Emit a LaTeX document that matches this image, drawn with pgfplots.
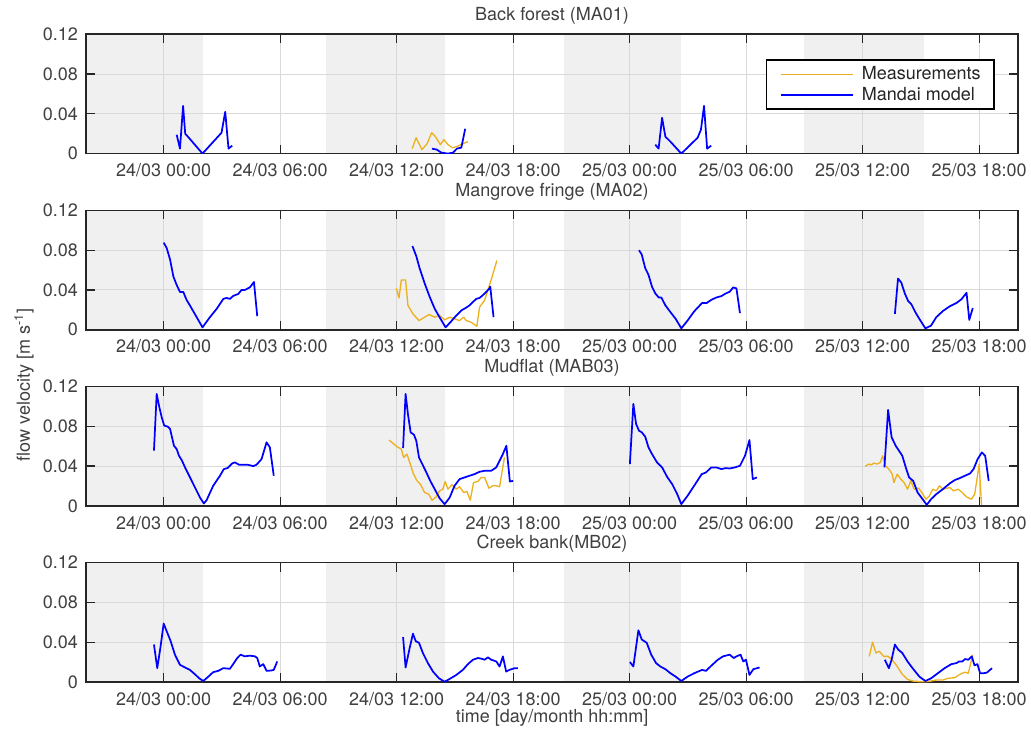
\documentclass[border=0pt]{standalone}
\usepackage{fontspec}
\setmainfont{TeX Gyre Heros}
\usepackage{pgfplots}
\pgfplotsset{compat=1.18}

\definecolor{modelblue}{RGB}{0,0,255}
\definecolor{measorange}{RGB}{237,177,32}
\definecolor{bandgray}{RGB}{240,240,240}
\definecolor{framegray}{RGB}{38,38,38}
\definecolor{textgray}{RGB}{64,64,64}

\newcommand{\figfont}{\fontsize{13.5}{16}\selectfont}

\pgfplotsset{
  model/.style={draw=modelblue, line width=1.3pt, line join=round, forget plot},
  meas/.style={draw=measorange, line width=1.0pt, line join=round, forget plot},
  band/.style={fill=bandgray, draw=none, forget plot, on layer=axis background},
  panel/.style={
    set layers, scale only axis, width=699pt, height=89.5pt,
    anchor=north west,
    xmin=-4, xmax=44, ymin=0, ymax=0.12,
    xtick={0,6,...,42},
    xticklabels={24/03 00:00, 24/03 06:00, 24/03 12:00, 24/03 18:00,
                 25/03 00:00, 25/03 06:00, 25/03 12:00, 25/03 18:00},
    ytick={0,0.04,0.08,0.12}, yticklabels={0,0.04,0.08,0.12},
    scaled y ticks=false,
    tick align=inside, major tick length=6.75pt,
    tick style={draw=framegray, line width=1pt},
    axis line style={draw=framegray, line width=1.2pt},
    grid=major, major grid style={draw=black!15, line width=0.8pt},
    tick label style={text=textgray, font=\figfont},
    xticklabel style={yshift=-4pt},
    yticklabel style={xshift=-2.5pt},
    title style={text=textgray, font=\figfont, at={(0.5,1)}, anchor=south,
                 inner sep=0pt, yshift=1.5pt},
    no markers,
  },
}

% tidal inundation periods shaded in every panel
\newcommand{\tidebands}{%
  \addplot[band] coordinates {(-4,0.12) (2.0,0.12)} \closedcycle;
  \addplot[band] coordinates {(8.35,0.12) (14.47,0.12)} \closedcycle;
  \addplot[band] coordinates {(20.64,0.12) (26.62,0.12)} \closedcycle;
  \addplot[band] coordinates {(33.0,0.12) (39.18,0.12)} \closedcycle;
}

\begin{document}
\begin{tikzpicture}

% ---------------- Back forest ----------------
\begin{axis}[panel, at={(0pt,0pt)}, title={Back forest (MA01)},
  legend style={at={(0.975,0.79)}, anchor=north east, draw=black,
    line width=1pt, fill=white, font=\figfont, text=framegray,
    inner xsep=10pt, inner ysep=5pt, column sep=6pt, row sep=4pt,
    nodes={inner sep=0pt}, cells={anchor=west}},
  legend image code/.code={\draw[#1] (0pt,0pt) -- (54pt,0pt);}]
\tidebands
\addplot[meas] coordinates {(12.8,0.005) (13.0,0.016) (13.3,0.004) (13.57,0.010)
  (13.8,0.021) (14.0,0.017) (14.25,0.009) (14.43,0.014) (14.64,0.009) (14.86,0.006)
  (15.1,0.007) (15.4,0.010) (15.67,0.012)};
\addplot[model] coordinates {(0.67,0.019) (0.84,0.005) (1.0,0.048) (1.11,0.020)
  (1.25,0.017) (2.0,0.0) (2.98,0.021) (3.17,0.042) (3.34,0.005) (3.53,0.008)};
\addplot[model] coordinates {(13.82,0.005) (14.07,0.004) (14.3,0.001) (14.64,0.0)
  (14.9,0.001) (15.1,0.005) (15.33,0.006) (15.53,0.025)};
\addplot[model] coordinates {(25.32,0.009) (25.49,0.005) (25.67,0.036) (25.84,0.017)
  (26.1,0.012) (26.66,0) (27.5,0.016) (27.67,0.024) (27.83,0.048) (27.99,0.005)
  (28.2,0.008)};
\addlegendimage{draw=measorange, line width=1.0pt}
\addlegendentry{Measurements}
\addlegendimage{draw=modelblue, line width=1.3pt}
\addlegendentry{Mandai model}
\end{axis}

% ---------------- Mangrove fringe ----------------
\begin{axis}[panel, at={(0pt,-132.1pt)}, title={Mangrove fringe (MA02)}]
\tidebands
\addplot[meas] coordinates {(11.98,0.0416) (12.12,0.032) (12.24,0.050) (12.46,0.050)
  (12.58,0.0245) (12.84,0.016) (13.15,0.0092) (13.44,0.0126) (13.67,0.0153)
  (13.96,0.0126) (14.21,0.0143) (14.47,0.0099) (14.73,0.0126) (14.98,0.011)
  (15.24,0.0092) (15.45,0.0126) (15.58,0.0092) (15.84,0.0075) (16.13,0.0034)
  (16.27,0.0228) (16.53,0.0297) (16.7,0.040) (16.92,0.0535) (17.16,0.0696)};
\addplot[model] coordinates {(0,0.0876) (0.15,0.0825) (0.33,0.0706) (0.5,0.0535)
  (0.67,0.045) (0.84,0.038) (1.01,0.038) (1.18,0.030) (1.35,0.0245) (1.7,0.0126)
  (2.0,0.0024) (2.38,0.0126) (2.73,0.021) (3.07,0.031) (3.24,0.032) (3.41,0.031)
  (3.58,0.034) (3.84,0.036) (4.01,0.040) (4.18,0.040) (4.44,0.0426) (4.65,0.048)
  (4.82,0.0136)};
\addplot[model] coordinates {(12.81,0.0842) (13.01,0.074) (13.18,0.062) (13.44,0.0467)
  (13.7,0.0331) (13.96,0.0211) (14.21,0.0126) (14.52,0.0024) (14.81,0.0085)
  (15.07,0.0143) (15.33,0.0194) (15.58,0.0222) (15.75,0.0245) (15.93,0.028)
  (16.1,0.031) (16.27,0.032) (16.44,0.0348) (16.61,0.038) (16.78,0.0416)
  (16.82,0.0433) (16.99,0.0126)};
\addplot[model] coordinates {(24.48,0.080) (24.62,0.0757) (24.8,0.062) (24.97,0.0552)
  (25.15,0.0433) (25.32,0.0365) (25.5,0.0324) (25.63,0.0324) (25.84,0.0245)
  (26.1,0.0177) (26.37,0.0109) (26.66,0.0014) (26.98,0.0092) (27.32,0.0184)
  (27.73,0.0269) (27.97,0.0269) (28.2,0.030) (28.46,0.0324) (28.72,0.0338)
  (28.95,0.0365) (29.15,0.0382) (29.33,0.0426) (29.5,0.0416) (29.68,0.0167)};
\addplot[model] coordinates {(37.66,0.016) (37.82,0.0515) (37.99,0.0474) (38.17,0.0365)
  (38.34,0.029) (38.51,0.0256) (38.71,0.0177) (38.92,0.0109) (39.23,0.0014)
  (39.52,0.0041) (39.79,0.0126) (40.13,0.0188) (40.48,0.0235) (40.83,0.0269)
  (41.09,0.0307) (41.35,0.0372) (41.49,0.0099) (41.67,0.0218)};
\end{axis}

% ---------------- Mudflat ----------------
\begin{axis}[panel, at={(0pt,-264.2pt)}, title={Mudflat (MAB03)}]
\tidebands
\addplot[meas] coordinates {(11.61,0.0662) (11.81,0.0629) (12.02,0.0595) (12.24,0.0571)
  (12.36,0.0487) (12.53,0.0521) (12.7,0.042) (12.87,0.0319) (13.05,0.0252)
  (13.22,0.0218) (13.44,0.0134) (13.65,0.0118) (13.82,0.0057) (14.04,0.0091)
  (14.21,0.0151) (14.38,0.0168) (14.5,0.0245) (14.64,0.0168) (14.85,0.0212)
  (15.07,0.0168) (15.24,0.0192) (15.45,0.0134) (15.62,0.0145) (15.79,0.0057)
  (15.96,0.0235) (16.18,0.0245) (16.36,0.0286) (16.53,0.0286) (16.75,0.0178)
  (16.95,0.0202) (17.13,0.0202) (17.3,0.0192) (17.55,0.0487)};
\addplot[meas] coordinates {(36.13,0.0397) (36.3,0.042) (36.44,0.0413) (36.58,0.043)
  (36.74,0.042) (36.91,0.0437) (37.03,0.0504) (37.17,0.0403) (37.35,0.037)
  (37.52,0.0319) (37.61,0.0235) (37.78,0.0319) (37.96,0.0269) (38.13,0.0235)
  (38.31,0.0168) (38.48,0.0252) (38.65,0.0168) (38.88,0.0178) (39.05,0.0134)
  (39.26,0.0067) (39.44,0.0101) (39.61,0.0168) (39.79,0.0151) (39.96,0.0202)
  (40.13,0.0168) (40.31,0.0175) (40.48,0.0185) (40.68,0.0151) (40.91,0.0168)
  (41.13,0.0134) (41.34,0.0091) (41.6,0.0067) (41.77,0.0118) (41.9,0.0286)
  (42.0,0.042) (42.07,0.0185) (42.12,0.001)};
\addplot[model] coordinates {(-0.5,0.0555) (-0.36,0.1126) (-0.22,0.099) (-0.10,0.089)
  (0.03,0.0807) (0.21,0.0797) (0.33,0.0773) (0.41,0.0706) (0.53,0.0605) (0.67,0.0571)
  (0.79,0.0504) (0.93,0.046) (1.1,0.0387) (1.53,0.0218) (1.87,0.0084) (2.07,0.0024)
  (2.21,0.0057) (2.55,0.0202) (2.9,0.0303) (3.1,0.037) (3.29,0.038) (3.53,0.0427)
  (3.67,0.0437) (3.89,0.0413) (4.1,0.0413) (4.35,0.0413) (4.61,0.040) (4.78,0.0413)
  (5.04,0.047) (5.3,0.0639) (5.47,0.0588) (5.67,0.0303)};
\addplot[model] coordinates {(12.33,0.0582) (12.46,0.1126) (12.58,0.0924) (12.72,0.0739)
  (12.89,0.0716) (13.01,0.0655) (13.15,0.0487) (13.32,0.042) (13.53,0.0336)
  (13.73,0.0252) (13.96,0.0168) (14.21,0.0077) (14.47,0.0017) (14.73,0.0084)
  (14.98,0.0202) (15.24,0.0269) (15.5,0.0286) (15.75,0.0303) (16.01,0.0319)
  (16.27,0.0343) (16.53,0.0353) (16.87,0.0353) (17.13,0.0387) (17.3,0.0454)
  (17.47,0.0521) (17.65,0.0605) (17.83,0.0245) (18.0,0.0252)};
\addplot[model] coordinates {(24.01,0.042) (24.19,0.1025) (24.33,0.0824) (24.48,0.0756)
  (24.62,0.074) (24.8,0.0696) (24.97,0.0588) (25.15,0.0521) (25.41,0.0437)
  (25.67,0.0387) (25.93,0.0292) (26.19,0.0218) (26.45,0.0118) (26.66,0.0017)
  (26.98,0.0101) (27.32,0.0202) (27.71,0.0319) (27.93,0.0336) (28.2,0.0387)
  (28.46,0.0387) (28.72,0.037) (28.95,0.038) (29.15,0.0376) (29.42,0.0387)
  (29.68,0.0403) (29.94,0.0504) (30.17,0.0662) (30.34,0.0269) (30.55,0.0286)};
\addplot[model] coordinates {(37.12,0.0387) (37.31,0.0965) (37.49,0.069) (37.7,0.0605)
  (37.87,0.0555) (38.04,0.0504) (38.22,0.0387) (38.39,0.0286) (38.6,0.0252)
  (38.83,0.0134) (39.09,0.0067) (39.3,0.001) (39.52,0.0067) (39.79,0.0118)
  (40.13,0.0168) (40.48,0.0225) (40.74,0.0259) (41.0,0.0279) (41.27,0.0303)
  (41.53,0.0326) (41.71,0.037) (41.92,0.047) (42.14,0.0538) (42.31,0.0504)
  (42.49,0.0252)};
\end{axis}

% ---------------- Creek bank ----------------
\begin{axis}[panel, at={(0pt,-396.3pt)}, title={Creek bank(MB02)}]
\tidebands
\addplot[meas] coordinates {(36.34,0.0258) (36.51,0.0401) (36.68,0.0292) (36.86,0.0309)
  (37.08,0.0258) (37.31,0.0258) (37.52,0.0224) (37.78,0.0156) (38.04,0.0078)
  (38.31,0.0027) (38.57,0.001) (38.92,0.0003) (39.26,0.0003) (39.52,0.001)
  (39.79,0.002) (40.13,0.002) (40.4,0.0037) (40.75,0.0044) (41.01,0.0078)
  (41.27,0.0099) (41.44,0.0088) (41.67,0.0275)};
\addplot[model] coordinates {(-0.5,0.0377) (-0.33,0.0139) (-0.17,0.0343) (0.0,0.0588)
  (0.15,0.0513) (0.36,0.0411) (0.58,0.0275) (0.84,0.0173) (1.1,0.0146) (1.35,0.0122)
  (1.61,0.0078) (1.83,0.0037) (2.04,0.001) (2.3,0.0054) (2.55,0.0099) (2.81,0.0112)
  (3.07,0.0139) (3.41,0.0133) (3.58,0.018) (3.79,0.0241) (3.96,0.0275) (4.18,0.0258)
  (4.44,0.0265) (4.7,0.0258) (4.82,0.0241) (4.95,0.0156) (5.13,0.018) (5.3,0.0112)
  (5.55,0.0116) (5.67,0.0122) (5.85,0.0207)};
\addplot[model] coordinates {(12.33,0.0452) (12.46,0.0146) (12.67,0.0343) (12.84,0.0486)
  (12.98,0.0411) (13.15,0.0394) (13.35,0.0292) (13.61,0.019) (13.87,0.0105)
  (14.18,0.0037) (14.47,0.0003) (14.73,0.0031) (15.07,0.0071) (15.41,0.0122)
  (15.67,0.018) (15.93,0.0224) (16.18,0.0241) (16.36,0.0235) (16.53,0.0224)
  (16.7,0.0248) (16.87,0.0224) (17.13,0.0207) (17.3,0.0156) (17.47,0.0258)
  (17.64,0.0105) (17.81,0.0122) (18.07,0.0139) (18.24,0.0139)};
\addplot[model] coordinates {(24.01,0.0201) (24.19,0.0156) (24.45,0.052) (24.62,0.0428)
  (24.88,0.0394) (25.11,0.0275) (25.36,0.019) (25.58,0.0156) (25.84,0.0129)
  (26.1,0.0088) (26.37,0.0054) (26.66,0.001) (26.98,0.0054) (27.32,0.0088)
  (27.73,0.0122) (27.93,0.0112) (28.2,0.0163) (28.54,0.0224) (28.81,0.0258)
  (29.15,0.0275) (29.36,0.0241) (29.5,0.0258) (29.71,0.0275) (29.85,0.0207)
  (29.99,0.0224) (30.17,0.0071) (30.37,0.0129) (30.69,0.0146)};
\addplot[model] coordinates {(37.14,0.0224) (37.35,0.0139) (37.49,0.0224) (37.66,0.0377)
  (37.83,0.0326) (38.04,0.0292) (38.31,0.0207) (38.57,0.0139) (38.92,0.0054)
  (39.23,0.001) (39.52,0.0037) (39.87,0.0088) (40.22,0.0139) (40.57,0.018)
  (40.83,0.019) (40.97,0.0207) (41.14,0.0207) (41.27,0.0231) (41.44,0.0224)
  (41.62,0.0258) (41.76,0.0167) (41.91,0.018) (42.05,0.0088) (42.23,0.0088)
  (42.4,0.0095) (42.66,0.0139)};
\end{axis}

% shared axis labels
\node[rotate=90, text=textgray, font=\figfont] at (-46.5pt,-263pt)
  {flow velocity [m s\textsuperscript{-1}]};
\node[text=textgray, font=\figfont] at (349.6pt,-512.8pt)
  {time [day/month hh:mm]};

\pgfresetboundingbox
\path[use as bounding box] (-64.5pt,25.7pt) rectangle (708.75pt,-521pt);
\end{tikzpicture}
\end{document}
